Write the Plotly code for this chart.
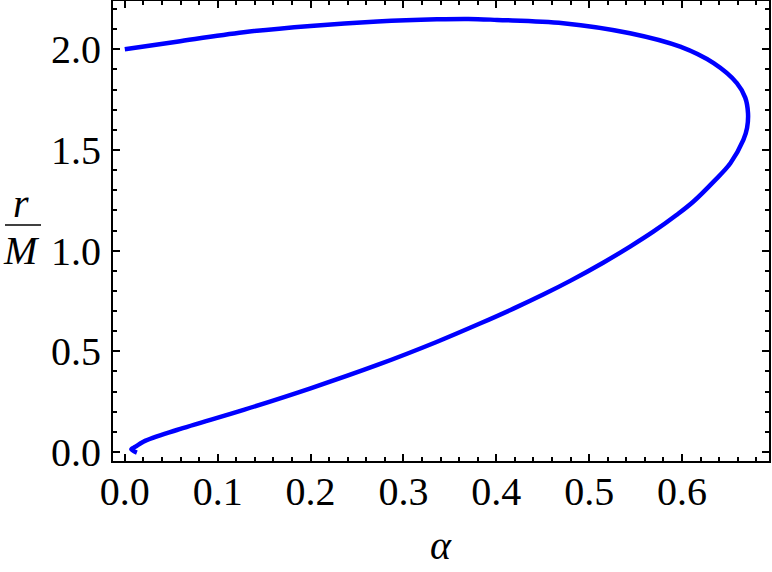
import plotly.graph_objects as go

# curve points, in drawing order (alpha, r/M)
alpha = [0.000, 0.056, 0.128, 0.200, 0.272, 0.336, 0.370, 0.401, 0.472, 0.544,
         0.598, 0.634, 0.659, 0.668, 0.671, 0.670, 0.666, 0.652, 0.634, 0.612,
         0.594, 0.569, 0.544, 0.515, 0.480, 0.451, 0.419, 0.383, 0.335, 0.272,
         0.200, 0.128, 0.056, 0.020, 0.0115, 0.007, 0.013]
r_over_m = [2.000, 2.038, 2.085, 2.116, 2.138, 2.149, 2.151, 2.146, 2.130, 2.080,
            2.013, 1.931, 1.832, 1.760, 1.683, 1.610, 1.550, 1.434, 1.343, 1.243,
            1.177, 1.094, 1.020, 0.940, 0.851, 0.783, 0.713, 0.639, 0.545, 0.432,
            0.316, 0.209, 0.109, 0.051, 0.026, 0.013, -0.003]

x_ticks = [0.0, 0.1, 0.2, 0.3, 0.4, 0.5, 0.6]
x_labels = ["0.0", "0.1", "0.2", "0.3", "0.4", "0.5", "0.6"]
y_ticks = [0.0, 0.5, 1.0, 1.5, 2.0]
y_labels = ["0.0", "0.5", "1.0", "1.5", "2.0"]

W, H = 772, 572
L, R, T, B = 113, 3, 1, 111
serif = "Liberation Serif"
FS = 40


def px_x(p):
    return (p - L) / (W - L - R)


def px_y(p):
    return 1 - (p - T) / (H - T - B)


fig = go.Figure()
fig.add_trace(go.Scatter(x=alpha, y=r_over_m, mode="lines",
                         line=dict(color="rgb(0,0,255)", width=4.5,
                                   shape="spline", smoothing=1.0),
                         hoverinfo="skip", showlegend=False))

axis_common = dict(showgrid=False, zeroline=False, showline=True,
                   linecolor="black", linewidth=2, mirror="allticks",
                   automargin=False,
                   ticks="inside", ticklen=7, tickwidth=1.5, tickcolor="black",
                   tickfont=dict(family=serif, size=FS, color="black"))

fig.update_xaxes(range=[-0.0127, 0.6936], tickvals=x_ticks, ticktext=x_labels,
                 minor=dict(dtick=0.02, tick0=0, ticks="inside", ticklen=4,
                            tickwidth=1.5, tickcolor="black"),
                 ticklabelstandoff=-6, **axis_common)
fig.update_yaxes(range=[-0.045, 2.24], tickvals=y_ticks, ticktext=y_labels,
                 minor=dict(dtick=0.1, tick0=0, ticks="inside", ticklen=4,
                            tickwidth=1.5, tickcolor="black"),
                 ticklabelstandoff=2, **axis_common)

# axis labels (r/M drawn as a stacked fraction)
label_font = dict(family=serif, size=FS, color="black")
for txt, cx, cy in [("<i>α</i>", 441, 545), ("<i>r</i>", 21, 203), ("<i>M</i>", 22, 250)]:
    fig.add_annotation(text=txt, xref="paper", yref="paper", x=px_x(cx), y=px_y(cy),
                       xanchor="center", yanchor="middle", showarrow=False,
                       font=label_font)
fig.add_shape(type="line", xref="paper", yref="paper",
              x0=px_x(5), x1=px_x(41), y0=px_y(225), y1=px_y(225),
              line=dict(color="black", width=1.5))

fig.update_layout(width=W, height=H, plot_bgcolor="white", paper_bgcolor="white",
                  margin=dict(l=L, r=R, t=T, b=B))

# the page body has a default 8px margin; drop it so the figure sits at 0,0
fig.write_html("out.html", config={"displayModeBar": False},
               post_script="document.body.style.margin='0';")
